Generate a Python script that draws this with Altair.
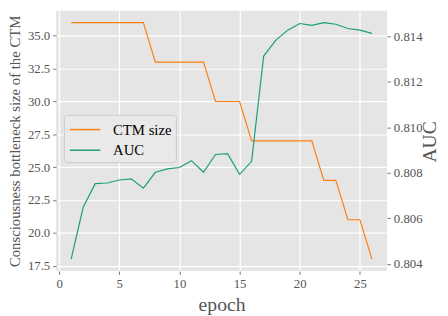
import altair as alt
import pandas as pd

epochs = list(range(1, 27))
ctm_size = [36, 36, 36, 36, 36, 36, 36, 33, 33, 33, 33, 33, 30, 30, 30,
            27, 27, 27, 27, 27, 27, 24, 24, 21, 21, 18]
auc = [0.8042, 0.80648, 0.80752, 0.80755, 0.80768, 0.80773, 0.80732, 0.80802,
       0.80817, 0.80823, 0.80853, 0.80802, 0.8088, 0.80884, 0.80793, 0.8085,
       0.81313, 0.81382, 0.81427, 0.81456, 0.81448, 0.8146, 0.81453, 0.81434,
       0.81427, 0.81413]
series = ["CTM size", "AUC"]
colors = ["#ff7f0e", "#1b9e77"]
x_ticks = [0, 5, 10, 15, 20, 25]
left_ticks = [17.5, 20.0, 22.5, 25.0, 27.5, 30.0, 32.5, 35.0]
right_ticks = [0.804, 0.806, 0.808, 0.810, 0.812, 0.814]


def padded(vals):
    lo, hi = min(vals), max(vals)
    m = (hi - lo) * 0.05
    return [lo - m, hi + m]


df_ctm = pd.DataFrame({"epoch": epochs, "value": ctm_size, "series": series[0]})
df_auc = pd.DataFrame({"epoch": epochs, "value": auc, "series": series[1]})

FONT = "Liberation Serif"
GRAY = "#555555"

x_enc = alt.X("epoch:Q",
              scale=alt.Scale(domain=padded(epochs), nice=False, zero=False),
              axis=alt.Axis(values=x_ticks, title="epoch", titleFontSize=20,
                            titlePadding=5, labelFontSize=13, format="d",
                            labelFont=FONT, titleFont=FONT))
color_enc = alt.Color("series:N",
                      scale=alt.Scale(domain=series, range=colors),
                      legend=alt.Legend(title=None, orient="none", legendX=8, legendY=106,
                                        symbolType="M-0.9,0H2.2", symbolSize=400,
                                        symbolStrokeWidth=1.5,
                                        labelFontSize=15, labelFont=FONT,
                                        labelColor="#000000", labelOffset=24,
                                        rowPadding=2, padding=4,
                                        fillColor="#E9E9E9", strokeColor="#CCCCCC",
                                        cornerRadius=3))

left = alt.Chart(df_ctm).mark_line(strokeWidth=1.2).encode(
    x=x_enc,
    y=alt.Y("value:Q",
            scale=alt.Scale(domain=padded(ctm_size), nice=False, zero=False),
            axis=alt.Axis(values=left_ticks, format=".1f", orient="left",
                          title="Consciousness bottleneck size of the CTM",
                          titleFontSize=15, titlePadding=4, labelFontSize=13,
                          labelFont=FONT, titleFont=FONT,
                          minExtent=30, maxExtent=30)),
    color=color_enc,
)

right = alt.Chart(df_auc).mark_line(strokeWidth=1.2).encode(
    x=x_enc,
    y=alt.Y("value:Q",
            scale=alt.Scale(domain=padded(auc), nice=False, zero=False),
            axis=alt.Axis(values=right_ticks, format=".3f", orient="right",
                          title="AUC", titleFontSize=20, titleAngle=270,
                          titleX=49, titleY=133, titleAlign="center",
                          titleBaseline="alphabetic", labelFontSize=13,
                          labelFont=FONT, titleFont=FONT)),
    color=color_enc,
)

chart = alt.layer(left, right).resolve_scale(y="independent").properties(
    width=337, height=265,
    autosize=alt.AutoSizeParams(type="none"),
    padding={"left": 49, "top": 0, "right": 54, "bottom": 43},
).configure(
    font=FONT
).configure_view(
    fill="#E5E5E5", stroke=None
).configure_axis(
    domain=False, grid=True, gridColor="#FFFFFF", gridWidth=1.2,
    tickColor=GRAY, tickSize=3.5, tickWidth=0.8, labelPadding=3,
    labelColor=GRAY, titleColor=GRAY, labelFont=FONT, titleFont=FONT,
    titleFontWeight="normal",
).configure_legend(
    labelFont=FONT
)

chart.save("out.html", embed_options={"renderer": "svg", "actions": False})
